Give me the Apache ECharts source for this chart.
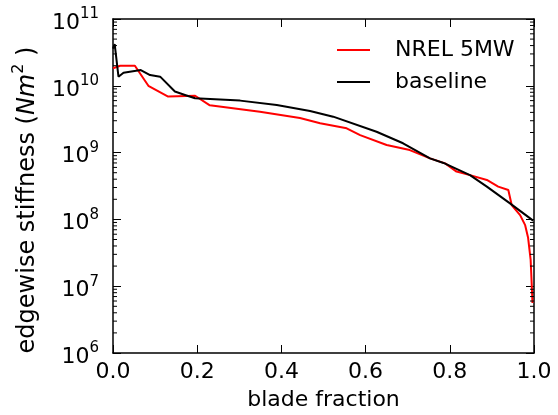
<!DOCTYPE html>
<html>
<head>
<meta charset="utf-8">
<script src="https://cdn.jsdelivr.net/npm/echarts@6/dist/echarts.min.js"></script>
<style>
html,body{margin:0;padding:0;background:#fff;}
#chart{width:558px;height:415px;}
</style>
</head>
<body>
<div id="chart"></div>
<script>
// ---- data ----
var nrelX = [0.0, 0.017, 0.052, 0.084, 0.131, 0.195, 0.230, 0.349, 0.444, 0.492, 0.555, 0.587, 0.650, 0.705, 0.753, 0.789, 0.816, 0.848, 0.888, 0.915, 0.939, 0.947, 0.967, 0.979, 0.986, 0.992, 0.9945, 0.9964];
var nrelY = [1.83e10, 2.0e10, 2.0e10, 1.0e10, 6.9e9, 7.1e9, 5.1e9, 4.1e9, 3.3e9, 2.75e9, 2.31e9, 1.83e9, 1.3e9, 1.09e9, 8.2e8, 6.9e8, 5.2e8, 4.6e8, 3.9e8, 3.1e8, 2.75e8, 1.64e8, 1.16e8, 8.2e7, 5.3e7, 2.5e7, 1.1e7, 5.6e6];
var baseX = [0.0, 0.004, 0.013, 0.025, 0.066, 0.088, 0.112, 0.147, 0.171, 0.195, 0.302, 0.389, 0.468, 0.523, 0.626, 0.689, 0.753, 0.785, 0.848, 0.888, 0.943, 0.998];
var baseY = [3.6e10, 4.2e10, 1.37e10, 1.57e10, 1.72e10, 1.45e10, 1.37e10, 8.2e9, 7.3e9, 6.5e9, 6.0e9, 5.16e9, 4.2e9, 3.45e9, 2.05e9, 1.38e9, 8.2e8, 7.0e8, 4.6e8, 3.1e8, 1.74e8, 9.6e7];
var seriesNames = ['NREL 5MW', 'baseline'];
var seriesColors = ['#ff0000', '#000000'];
var xTickInterval = 0.2;
var yMin = 1e6, yMax = 1e11;
var minorMultipliers = [2, 3, 4, 5, 6, 7, 8, 9];
var decades = [6, 7, 8, 9, 10];

function pairs(xs, ys) { return xs.map(function (x, i) { return [x, ys[i]]; }); }
var minorTickValues = [];
decades.forEach(function (d) { minorMultipliers.forEach(function (m) { minorTickValues.push([0, m * Math.pow(10, d)]); }); });

var FONT = '"DejaVu Sans", sans-serif';
var chart = echarts.init(document.getElementById('chart'), null, {renderer: 'canvas'});

var xAxisBase = {
  type: 'value', min: 0, max: 1, interval: xTickInterval,
  axisLine: {show: true, onZero: false, lineStyle: {color: '#000', width: 1.5}},
  axisTick: {show: true, inside: true, length: 8, lineStyle: {color: '#000', width: 1}},
  splitLine: {show: false}
};
var yAxisBase = {
  type: 'log', logBase: 10, min: yMin, max: yMax,
  axisLine: {show: true, onZero: false, lineStyle: {color: '#000', width: 1.5}},
  axisTick: {show: true, inside: true, length: 8, lineStyle: {color: '#000', width: 1}},
  splitLine: {show: false}
};

var option = {
  animation: false,
  backgroundColor: '#fff',
  grid: {left: 113, right: 24, top: 19, bottom: 62, containLabel: false, outerBoundsMode: 'none'},
  legend: {
    data: seriesNames.map(function (n, i) { return {name: n, icon: 'rect', itemStyle: {color: seriesColors[i]}}; }),
    orient: 'vertical',
    left: 332, top: 34,
    itemWidth: 33, itemHeight: 2, itemGap: 10,
    textStyle: {fontFamily: FONT, fontSize: 22, color: '#000', padding: [0, 0, 0, 20], lineHeight: 22}
  },
  xAxis: [
    Object.assign({}, xAxisBase, {
      position: 'bottom',
      axisLabel: {show: true, margin: 8, fontFamily: FONT, fontSize: 22, color: '#000',
        formatter: function (v) { return v.toFixed(1); }},
      name: 'blade fraction', nameLocation: 'middle', nameGap: 36,
      nameTextStyle: {fontFamily: FONT, fontSize: 22, color: '#000'}
    }),
    Object.assign({}, xAxisBase, {position: 'top', axisLabel: {show: false}})
  ],
  yAxis: [
    Object.assign({}, yAxisBase, {
      position: 'left',
      axisLabel: {show: true, margin: 14, fontFamily: FONT, color: '#000', padding: [8, 0, 0, 0],
        formatter: function (v) { return '{b|10}{s|' + Math.round(Math.log10(v)) + '}'; },
        rich: {
          b: {fontFamily: FONT, fontSize: 22, lineHeight: 32, color: '#000'},
          s: {fontFamily: FONT, fontSize: 15, lineHeight: 15, verticalAlign: 'top', color: '#000'}
        }}
    }),
    Object.assign({}, yAxisBase, {position: 'right', axisLabel: {show: false}})
  ],
  graphic: [{
    type: 'text', x: 28, y: 200, rotation: Math.PI / 2,
    style: {
      text: '{n|edgewise stiffness (}{i|Nm}{s|2}{n| )}',
      align: 'center', verticalAlign: 'middle',
      rich: {
        n: {fontFamily: FONT, fontSize: 24, lineHeight: 34, fill: '#000'},
        i: {fontFamily: FONT, fontSize: 24, fontStyle: 'italic', lineHeight: 34, fill: '#000'},
        s: {fontFamily: FONT, fontSize: 16, lineHeight: 16, verticalAlign: 'top', fill: '#000'}
      }
    }
  }],
  series: [
    {
      name: seriesNames[0], type: 'line', data: pairs(nrelX, nrelY),
      xAxisIndex: 0, yAxisIndex: 0,
      symbol: 'none', showSymbol: false, smooth: false,
      lineStyle: {color: seriesColors[0], width: 2}, itemStyle: {color: seriesColors[0]}, z: 3
    },
    {
      name: seriesNames[1], type: 'line', data: pairs(baseX, baseY),
      xAxisIndex: 0, yAxisIndex: 0,
      symbol: 'none', showSymbol: false, smooth: false,
      lineStyle: {color: seriesColors[1], width: 2}, itemStyle: {color: seriesColors[1]}, z: 4
    },
    {
      name: 'minorTicks', type: 'custom', xAxisIndex: 0, yAxisIndex: 0,
      data: minorTickValues, silent: true, z: 5, clip: false,
      renderItem: function (params, api) {
        var v = api.value(1);
        var pl = api.coord([0, v]);
        var pr = api.coord([1, v]);
        return {
          type: 'group',
          children: [
            {type: 'line', shape: {x1: pl[0], y1: pl[1], x2: pl[0] + 4, y2: pl[1]}, style: {stroke: '#000', lineWidth: 1}},
            {type: 'line', shape: {x1: pr[0], y1: pr[1], x2: pr[0] - 4, y2: pr[1]}, style: {stroke: '#000', lineWidth: 1}}
          ]
        };
      }
    }
  ]
};
chart.setOption(option);
</script>
</body>
</html>
